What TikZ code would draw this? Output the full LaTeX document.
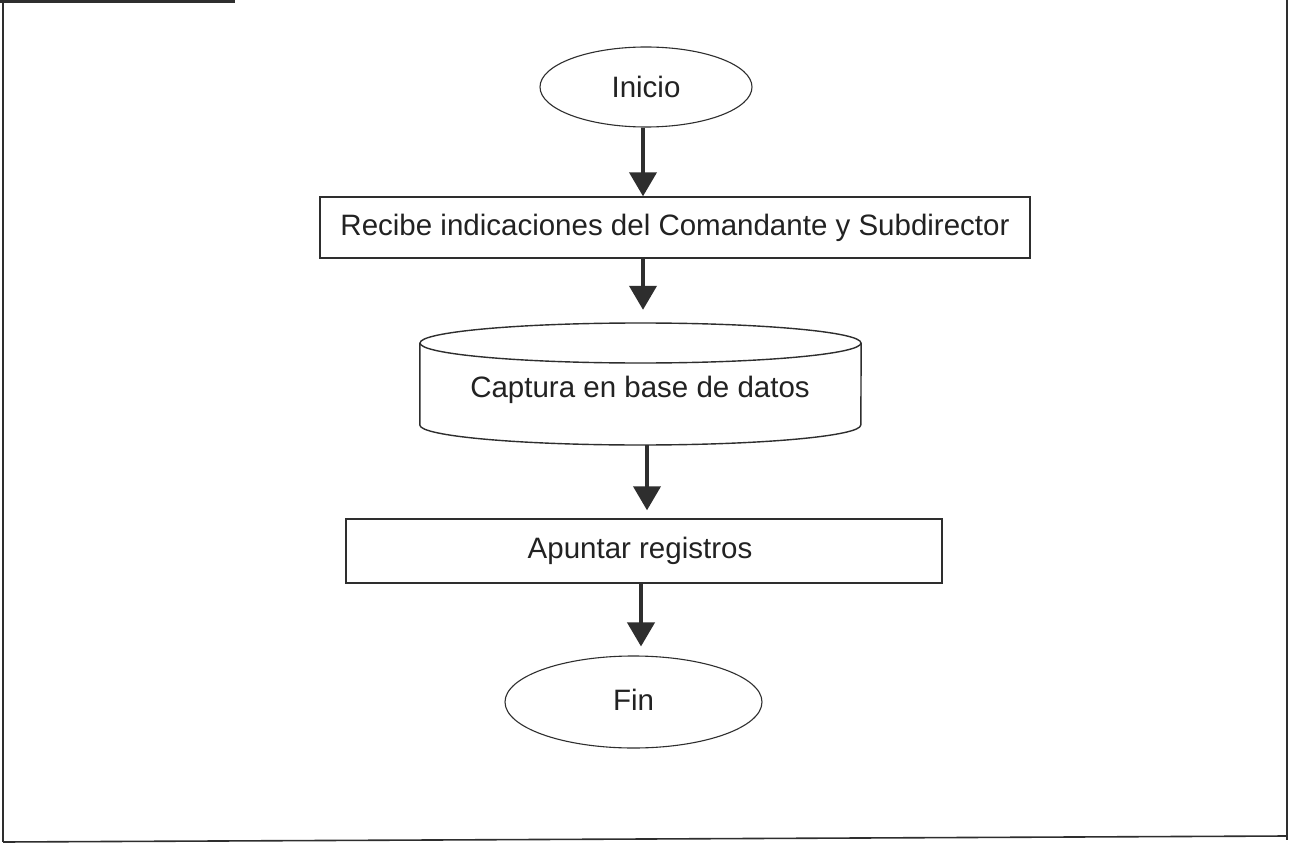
\documentclass[tikz,border=0pt]{standalone}
\usepackage{fontspec}
\setmainfont{Liberation Sans}
\usetikzlibrary{shapes.geometric,arrows.meta}
\definecolor{ink}{HTML}{2E2E2E}
\definecolor{txt}{HTML}{222222}
\begin{document}
\begin{tikzpicture}[x=1pt,y=1pt,
  every node/.style={font=\fontsize{29.5}{34}\selectfont, text=txt},
  term/.style={ellipse, draw=ink, line width=1.1pt, inner sep=0pt},
  procbox/.style={rectangle, draw=ink, line width=1.4pt, inner sep=0pt},
  arr/.style={draw=ink, line width=4pt, -{Triangle[width=27pt,length=24pt]}},
  frame/.style={draw=ink, line width=1.6pt}]
\useasboundingbox (0,0) rectangle (1296,-845);
\fill[white] (0,0) rectangle (1296,-845);
% frame
\draw[frame] (3,-2) -- (3,-842);
\draw[frame] (1287,0) -- (1287,-840);
\draw[frame] (3,-842) -- (1287,-836);
\draw[draw=ink, line width=3pt] (0,-1.5) -- (235,-1.5);
% nodes
\node[term, minimum width=212pt, minimum height=80pt] (inicio) at (646,-87) {Inicio};
\node[procbox, minimum width=710pt, minimum height=61pt] (r1) at (675,-227.5) {Recibe indicaciones del Comandante y Subdirector};
\node[rectangle, minimum width=441pt, minimum height=122pt, inner sep=0pt] (db) at (640.5,-384) {};
\draw[ink, line width=1.4pt] (640.5,-343) ellipse [x radius=220.5pt, y radius=20pt];
\draw[ink, line width=1.4pt] (db.north west |- 0,-343) -- (db.south west |- 0,-425) arc[start angle=180, end angle=360, x radius=220.5pt, y radius=20pt] -- (db.north east |- 0,-343);
\node at (640,-390) {Captura en base de datos};
\node[procbox, minimum width=596pt, minimum height=64pt] (r2) at (644,-551) {\hspace*{-8pt}Apuntar registros};
\node[term, minimum width=257pt, minimum height=92pt] (fin) at (633.5,-702) {\raisebox{4pt}{Fin}};
% arrows
\draw[arr] ([xshift=-3pt]inicio.south) -- ([xshift=-3pt]inicio.south |- r1.north);
\draw[arr, shorten >=13pt] ([xshift=-32pt]r1.south) -- ([xshift=-32pt]r1.south |- db.north);
\draw[arr, shorten >=8pt] ([xshift=6.5pt]db.south) -- ([xshift=6.5pt]db.south |- r2.north);
\draw[arr, shorten >=9pt] ([xshift=-3pt]r2.south) -- ([xshift=-3pt]r2.south |- fin.north);
\end{tikzpicture}
\end{document}
